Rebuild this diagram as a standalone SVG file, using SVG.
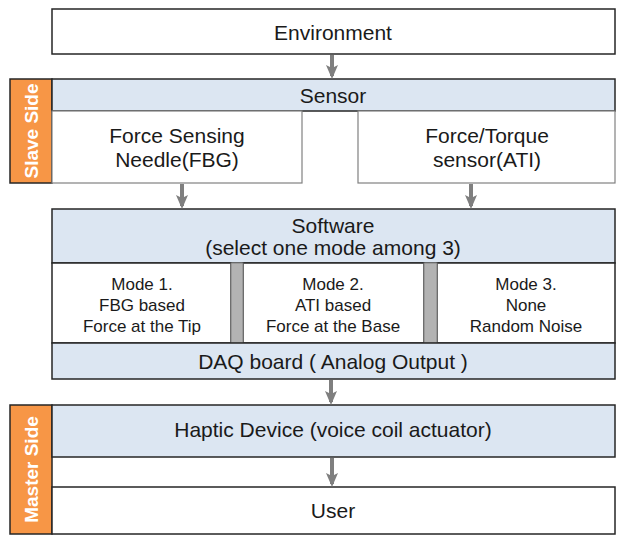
<svg xmlns="http://www.w3.org/2000/svg" width="624" height="544" viewBox="0 0 624 544">
<defs>
<style>
.t{font-family:"Liberation Sans",Arial,sans-serif;fill:#1a1a1a;text-anchor:middle}
.big{font-size:21px}
.sm{font-size:17px}
.side{font-family:"Liberation Sans",Arial,sans-serif;font-size:19px;font-weight:bold;fill:#ffffff;text-anchor:middle}
.box{stroke:#262626;stroke-width:1.5}
.sub{fill:#ffffff;stroke:#808080;stroke-width:1.2}
.blue{fill:#dce6f2}
.white{fill:#ffffff}
.orange{fill:#f79646;stroke:#262626;stroke-width:1.5}
.sep{fill:#b3b3b3;stroke:#808080;stroke-width:1}
.arr{stroke:#7f7f7f;stroke-width:4;fill:none}
</style>
<marker id="ah" viewBox="0 0 14 12" refX="11" refY="6" markerWidth="14" markerHeight="12" markerUnits="userSpaceOnUse" orient="auto">
<path d="M0,0 L14,6 L0,12 L3,6 Z" fill="#7f7f7f"/>
</marker>
</defs>
<rect width="624" height="544" fill="#ffffff"/>

<g id="environment">
<rect class="box white" x="52" y="9" width="563" height="45"/>
<text class="t big" x="333" y="40">Environment</text>
</g>

<g id="slave-side">
<rect class="orange" x="10" y="79" width="42" height="104"/>
<text class="side" transform="translate(38,131) rotate(-90)">Slave Side</text>
</g>

<g id="sensor">
<rect class="box blue" x="52" y="79" width="563" height="32"/>
<text class="t big" x="333" y="103">Sensor</text>
</g>

<g id="fbg-needle">
<rect class="sub" x="52" y="111" width="250" height="72"/>
<text class="t big" x="177" y="143">Force Sensing</text>
<text class="t big" x="177" y="167">Needle(FBG)</text>
</g>

<g id="ati-sensor">
<rect class="sub" x="358" y="111" width="257" height="72"/>
<text class="t big" x="487" y="143">Force/Torque</text>
<text class="t big" x="487" y="167">sensor(ATI)</text>
</g>

<g id="software">
<rect class="box blue" x="52" y="209" width="563" height="54"/>
<text class="t big" x="333" y="233">Software</text>
<text class="t big" x="333" y="255">(select one mode among 3)</text>
</g>

<g id="mode1">
<rect class="box white" x="52" y="263" width="179" height="80"/>
<text class="t sm" x="142" y="290">Mode 1.</text>
<text class="t sm" x="142" y="311">FBG based</text>
<text class="t sm" x="142" y="332">Force at the Tip</text>
</g>

<g id="mode2">
<rect class="box white" x="243" y="263" width="181" height="80"/>
<text class="t sm" x="333" y="290">Mode 2.</text>
<text class="t sm" x="333" y="311">ATI based</text>
<text class="t sm" x="333" y="332">Force at the Base</text>
</g>

<g id="mode3">
<rect class="box white" x="437" y="263" width="178" height="80"/>
<text class="t sm" x="526" y="290">Mode 3.</text>
<text class="t sm" x="526" y="311">None</text>
<text class="t sm" x="526" y="332">Random Noise</text>
</g>

<g id="separators">
<rect class="sep" x="231" y="263" width="12" height="80"/>
<rect class="sep" x="424" y="263" width="13" height="80"/>
</g>

<g id="daq">
<rect class="box blue" x="52" y="343" width="563" height="36"/>
<text class="t big" x="333" y="369">DAQ board ( Analog Output )</text>
</g>

<g id="master-side">
<rect class="orange" x="10" y="405" width="42" height="129"/>
<text class="side" transform="translate(38,469.5) rotate(-90)">Master Side</text>
</g>

<g id="haptic">
<rect class="box blue" x="52" y="405" width="563" height="52"/>
<text class="t big" x="333" y="437">Haptic Device (voice coil actuator)</text>
</g>

<g id="user">
<rect class="box white" x="52" y="487" width="563" height="47"/>
<text class="t big" x="333" y="518">User</text>
</g>

<g id="connectors">
<line class="arr" x1="332" y1="55" x2="332" y2="76" marker-end="url(#ah)"/>
<line class="arr" x1="182" y1="184" x2="182" y2="206" marker-end="url(#ah)"/>
<line class="arr" x1="471" y1="184" x2="471" y2="206" marker-end="url(#ah)"/>
<line class="arr" x1="331" y1="380" x2="331" y2="402" marker-end="url(#ah)"/>
<line class="arr" x1="332" y1="458" x2="332" y2="484" marker-end="url(#ah)"/>
</g>
</svg>
